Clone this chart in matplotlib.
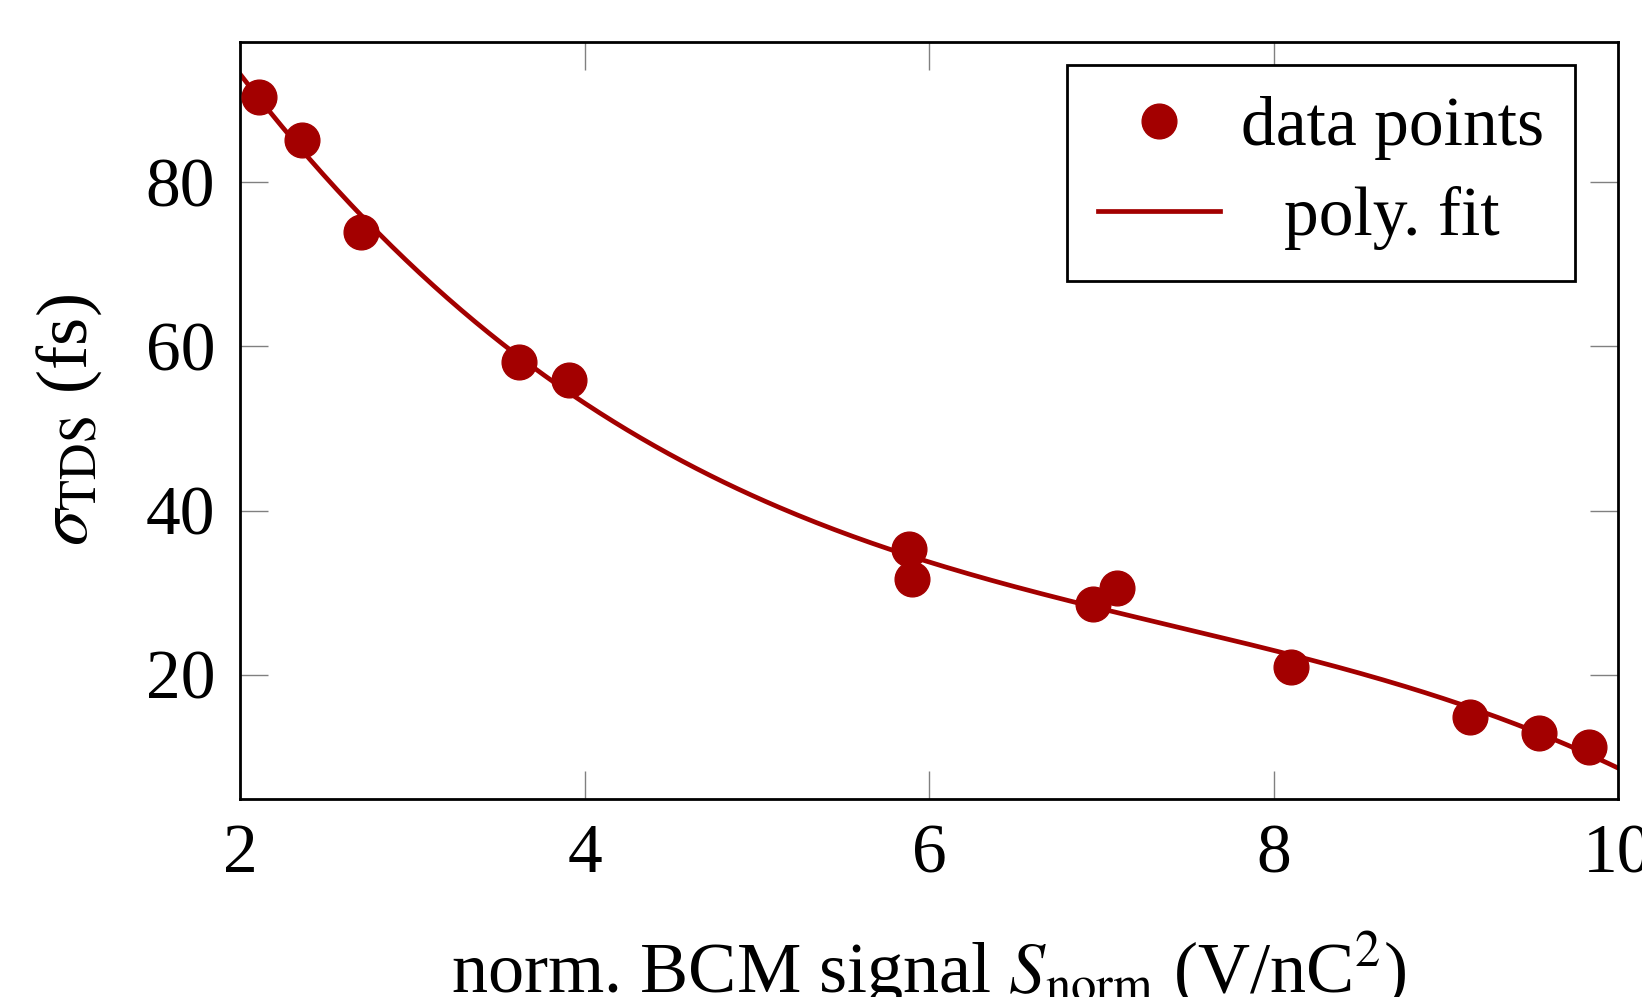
import numpy as np
import matplotlib
matplotlib.use("Agg")
import matplotlib.pyplot as plt

# Measured bunch length versus normalised BCM signal
s_norm = [2.11, 2.36, 2.705, 3.62, 3.91, 5.885, 5.90, 6.95, 7.09, 8.10, 9.14, 9.54, 9.83]
sigma_tds = [90.4, 85.2, 73.9, 58.1, 55.9, 35.3, 31.7, 28.6, 30.6, 20.9, 14.8, 12.9, 11.2]

x_ticks = [2, 4, 6, 8, 10]
y_ticks = [20, 40, 60, 80]

red = "#A30000"

plt.rcParams["font.family"] = ["Liberation Serif", "DejaVu Serif"]
plt.rcParams["mathtext.fontset"] = "stix"
plt.rcParams["font.size"] = 50

fig = plt.figure(figsize=(16.42, 9.97), dpi=100)
ax = fig.add_axes([0.1462, 0.1986, 0.9854 - 0.1462, 0.9579 - 0.1986])

# cubic polynomial fit of the measurements
coef = np.polyfit(s_norm, sigma_tds, 3)
xf = np.linspace(2, 10, 300)
ax.plot(xf, np.polyval(coef, xf), color=red, lw=3.4, label="poly. fit", zorder=2)
ax.plot(s_norm, sigma_tds, "o", color=red, ms=25, label="data points", zorder=3)

ax.set_xlim(2, 10)
ax.set_ylim(4.85, 97.1)
ax.set_xticks(x_ticks)
ax.set_yticks(y_ticks)
ax.tick_params(direction="in", length=20, width=1, color="#808080",
               top=True, right=True, pad=18)
for sp in ax.spines.values():
    sp.set_linewidth(2)

ax.set_xlabel(r"norm. BCM signal $S_\mathrm{norm}$ (V/nC$^2$)", labelpad=30,
              fontsize=52)
ax.set_ylabel(r"$\sigma_\mathrm{TDS}$ (fs)", labelpad=30, fontsize=52)

handles, labels = ax.get_legend_handles_labels()
leg = ax.legend(handles[::-1], labels[::-1], loc="upper right",
                bbox_to_anchor=(0.9688, 0.9696), fancybox=False,
                edgecolor="black", framealpha=1, handlelength=1.75,
                borderpad=0.45, labelspacing=0.37, handletextpad=0.3,
                borderaxespad=0)
leg.get_frame().set_linewidth(2)

# centre the shorter legend entry under the longer one
fig.canvas.draw()
r = fig.canvas.get_renderer()
texts = leg.get_texts()
w = [t.get_window_extent(r).width for t in texts]
wmax = max(w)
for t, wi in zip(texts, w):
    t.set_x((wmax - wi) / 2)

fig.savefig("out.png", dpi=100)
